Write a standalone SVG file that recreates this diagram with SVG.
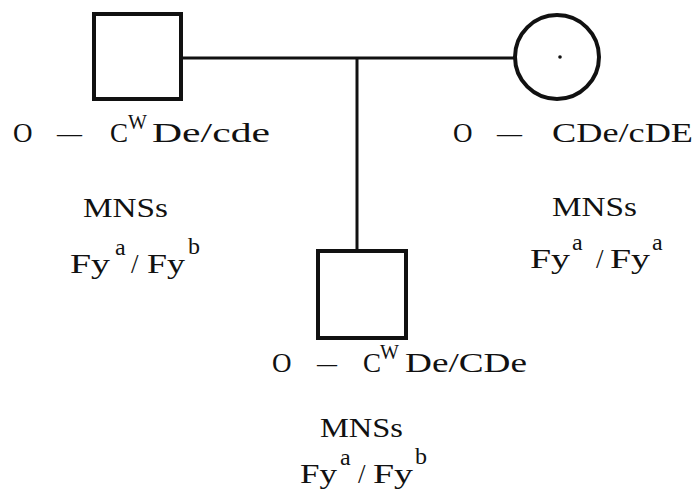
<svg xmlns="http://www.w3.org/2000/svg" width="699" height="502" viewBox="0 0 699 502">
<style>
text{font-family:"Liberation Serif","DejaVu Serif",serif;font-size:27px;fill:#111}
.sup{font-size:24px}
.w{font-size:20px}
.sym{fill:none;stroke:#111;stroke-width:4}
.con{fill:none;stroke:#111;stroke-width:3}
</style>
<rect width="699" height="502" fill="#fff"/>
<g id="connectors">
<line class="con" x1="181" y1="58" x2="514" y2="58"/>
<line class="con" x1="357" y1="58" x2="357" y2="251"/>
</g>
<g id="father">
<rect class="sym" x="94" y="14" width="87" height="85"/>
<text x="13" y="142">O</text>
<text x="57" y="142" textLength="25" lengthAdjust="spacingAndGlyphs">—</text>
<text x="110" y="142">C</text>
<text class="w" x="128" y="129">W</text>
<text x="152" y="142" textLength="118" lengthAdjust="spacingAndGlyphs">De/cde</text>
<text x="83" y="217" textLength="85" lengthAdjust="spacingAndGlyphs">MNSs</text>
<text x="70" y="273" textLength="40" lengthAdjust="spacingAndGlyphs">Fy</text>
<text class="sup" x="115" y="255">a</text>
<text x="131" y="273">/</text>
<text x="147" y="273" textLength="38" lengthAdjust="spacingAndGlyphs">Fy</text>
<text class="sup" x="188" y="254">b</text>
</g>
<g id="mother">
<circle class="sym" cx="557" cy="57" r="42"/>
<circle cx="560" cy="57" r="1.8" fill="#111"/>
<text x="453" y="142">O</text>
<text x="497" y="142" textLength="25" lengthAdjust="spacingAndGlyphs">—</text>
<text x="552" y="142" textLength="141" lengthAdjust="spacingAndGlyphs">CDe/cDE</text>
<text x="552" y="216" textLength="85" lengthAdjust="spacingAndGlyphs">MNSs</text>
<text x="530" y="268" textLength="40" lengthAdjust="spacingAndGlyphs">Fy</text>
<text class="sup" x="572" y="250">a</text>
<text x="596" y="268">/</text>
<text x="610" y="268" textLength="40" lengthAdjust="spacingAndGlyphs">Fy</text>
<text class="sup" x="652" y="250">a</text>
</g>
<g id="child">
<rect class="sym" x="318" y="251" width="88" height="87" stroke-width="5"/>
<text x="272" y="372">O</text>
<text x="317" y="372" textLength="20" lengthAdjust="spacingAndGlyphs">—</text>
<text x="363" y="372">C</text>
<text class="w" x="380" y="359">W</text>
<text x="405" y="372" textLength="122" lengthAdjust="spacingAndGlyphs">De/CDe</text>
<text x="320" y="437" textLength="83" lengthAdjust="spacingAndGlyphs">MNSs</text>
<text x="300" y="483" textLength="37" lengthAdjust="spacingAndGlyphs">Fy</text>
<text class="sup" x="340" y="465">a</text>
<text x="358" y="483">/</text>
<text x="373" y="483" textLength="40" lengthAdjust="spacingAndGlyphs">Fy</text>
<text class="sup" x="415" y="464">b</text>
</g>
</svg>
